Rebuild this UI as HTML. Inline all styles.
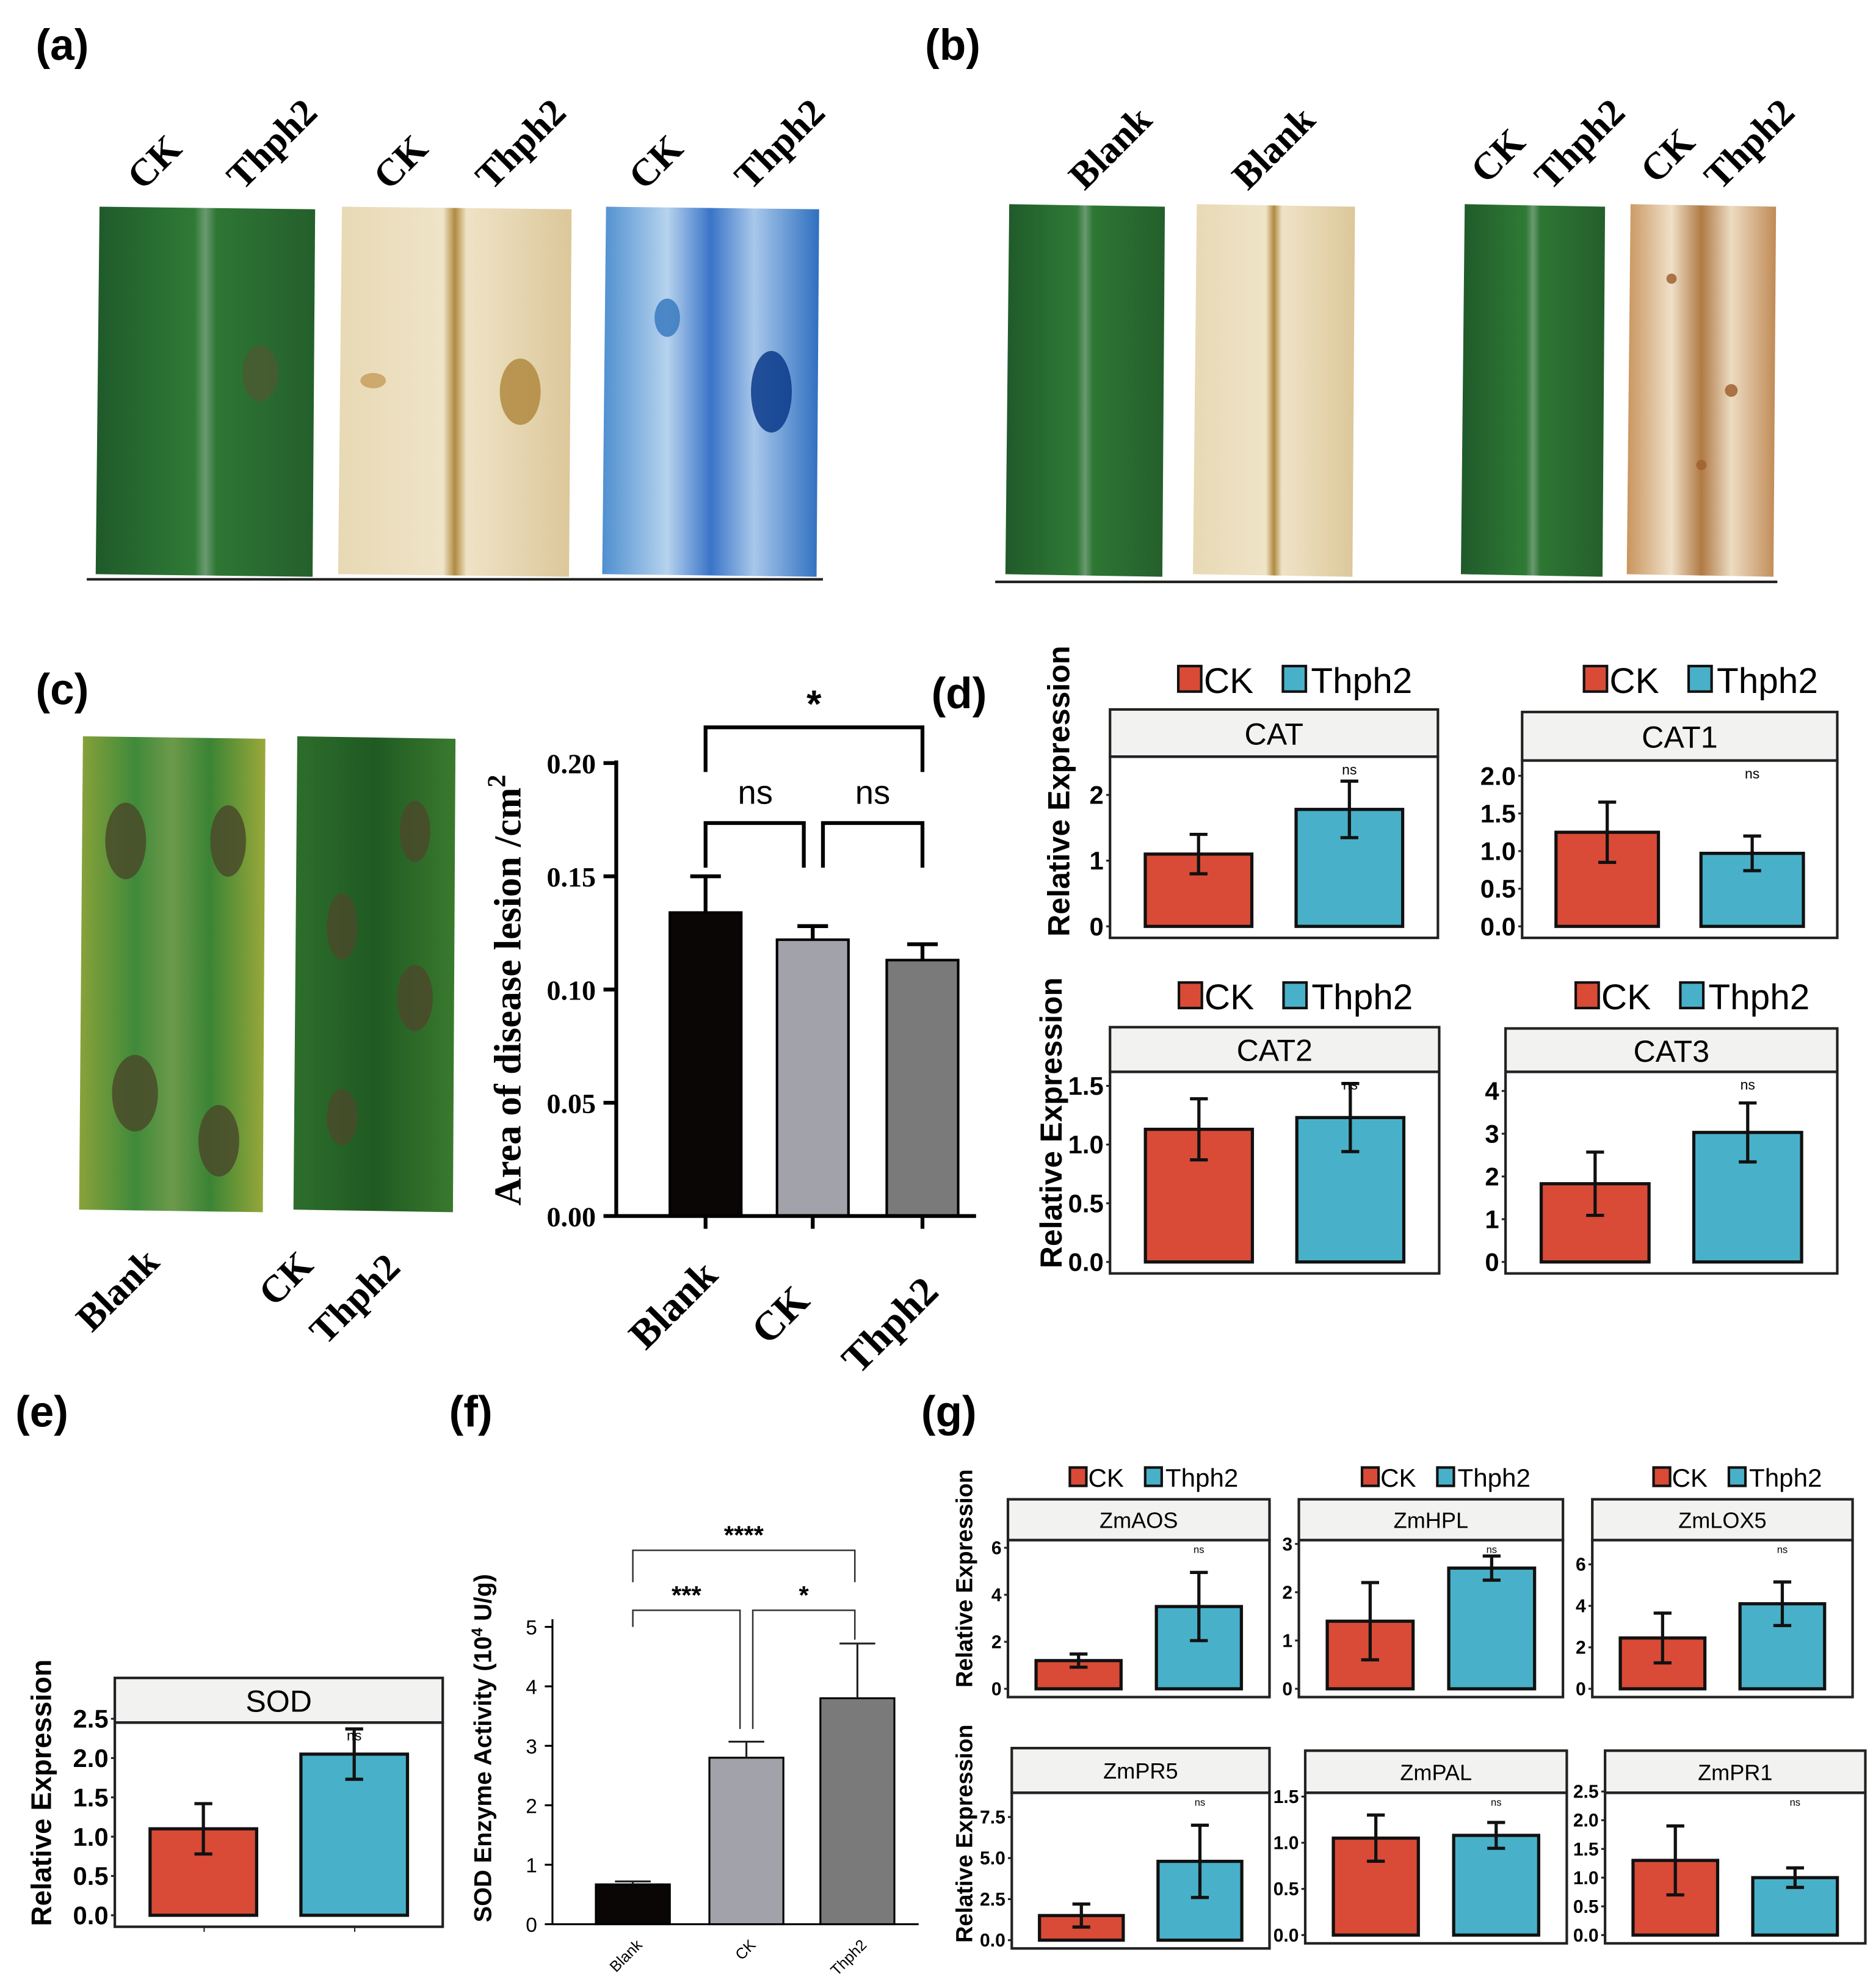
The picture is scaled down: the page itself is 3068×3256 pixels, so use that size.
<!DOCTYPE html>
<html><head><meta charset="utf-8">
<style>
html,body{margin:0;padding:0;background:#fff;}
svg{display:block;}
text{font-family:"Liberation Sans",Arial,sans-serif;}
.ser{font-family:"Liberation Serif","Times New Roman",serif;font-weight:bold;}
.lbl{font-family:"Liberation Sans",Arial,sans-serif;font-weight:bold;font-size:34px;}
</style></head>
<body>
<svg id="fig" xmlns="http://www.w3.org/2000/svg" width="3068" height="3256" viewBox="0 0 1468 1558" preserveAspectRatio="none">
<defs>
<linearGradient id="gGreen" x1="0" x2="1"><stop offset="0" stop-color="#1f5a2a"/><stop offset="0.45" stop-color="#2f7a36"/><stop offset="0.5" stop-color="#6a9a70"/><stop offset="0.55" stop-color="#2e7634"/><stop offset="1" stop-color="#245f2b"/></linearGradient>
<linearGradient id="gCream" x1="0" x2="1"><stop offset="0" stop-color="#e8d9b4"/><stop offset="0.45" stop-color="#efe4c8"/><stop offset="0.5" stop-color="#b08a40"/><stop offset="0.55" stop-color="#efe3c6"/><stop offset="1" stop-color="#dcc79a"/></linearGradient>
<linearGradient id="gBlue" x1="0" x2="1"><stop offset="0" stop-color="#4f8fd0"/><stop offset="0.3" stop-color="#b6d3ee"/><stop offset="0.5" stop-color="#3a74c8"/><stop offset="0.7" stop-color="#a8c8ea"/><stop offset="1" stop-color="#2f6fc0"/></linearGradient>
<linearGradient id="gBrown" x1="0" x2="1"><stop offset="0" stop-color="#c9955e"/><stop offset="0.3" stop-color="#efe0c8"/><stop offset="0.5" stop-color="#b07a44"/><stop offset="0.7" stop-color="#ecdcc2"/><stop offset="1" stop-color="#c08a55"/></linearGradient>
<linearGradient id="gYel" x1="0" x2="1"><stop offset="0" stop-color="#8aa23a"/><stop offset="0.3" stop-color="#3f8a3a"/><stop offset="0.5" stop-color="#6c9a4a"/><stop offset="0.7" stop-color="#3a8434"/><stop offset="1" stop-color="#9aa83a"/></linearGradient>
<linearGradient id="gDk" x1="0" x2="1"><stop offset="0" stop-color="#2e6e2c"/><stop offset="0.5" stop-color="#1f5a22"/><stop offset="1" stop-color="#3a7a2e"/></linearGradient>
</defs>
<g id="root"></g>
</svg>
<script>
// ---------- data ----------
const lesionCats = ["Blank","CK","Thph2"];
const lesionVals = [0.134,0.122,0.113];
const lesionErr = [0.016,0.006,0.007];
const lesionTicks = ["0.00","0.05","0.10","0.15","0.20"];

const sodActCats = ["Blank","CK","Thph2"];
const sodActVals = [0.67,2.8,3.8];
const sodActErr = [0.05,0.27,0.92];
const sodActTicks = ["0","1","2","3","4","5"];

const facetNames = ["CAT","CAT1","CAT2","CAT3","SOD","ZmAOS","ZmHPL","ZmLOX5","ZmPR5","ZmPAL","ZmPR1"];
const ckVals   = [1.1,1.25,1.13,1.83,1.1,1.2,1.4,2.45,1.5,1.05,1.3];
const ckErr    = [0.3,0.4,0.26,0.74,0.32,0.28,0.8,1.2,0.7,0.25,0.6];
const thVals   = [1.78,0.97,1.23,3.03,2.05,3.5,2.5,4.1,4.8,1.08,1.0];
const thErr    = [0.43,0.23,0.29,0.69,0.32,1.45,0.25,1.05,2.2,0.14,0.17];
const facetTicks = [
 ["0","1","2"],["0.0","0.5","1.0","1.5","2.0"],["0.0","0.5","1.0","1.5"],["0","1","2","3","4"],
 ["0.0","0.5","1.0","1.5","2.0","2.5"],["0","2","4","6"],["0","1","2","3"],["0","2","4","6"],
 ["0.0","2.5","5.0","7.5"],["0.0","0.5","1.0","1.5"],["0.0","0.5","1.0","1.5","2.0","2.5"]];

// ---------- helpers ----------
const NS="http://www.w3.org/2000/svg";
const root=document.getElementById('root');
function mk(tag,attrs,parent,txt){const e=document.createElementNS(NS,tag);for(const k in attrs)e.setAttribute(k,attrs[k]);if(txt!==undefined)e.textContent=txt;(parent||root).appendChild(e);return e;}
function grp(name,parent){const g=mk('g',{},parent);return g;}

// panel labels
[["(a)",28,47],["(b)",725,47],["(c)",28,552],["(d)",730,555],["(e)",12,1118],["(f)",352,1118],["(g)",722,1118]].forEach(p=>{
 const t=mk('text',{x:p[1],y:p[2],class:'lbl'},root,p[0]);
 
 
});

// ---------- leaves ----------
function leaf(name,x,y,w,h,fill,spots){
 const g=grp(name);
 mk('path',{d:`M${x+3},${y} L${x+w},${y+2} L${x+w-2},${y+h} L${x},${y+h-2} Z`,fill:fill},g);
 (spots||[]).forEach(s=>mk('ellipse',{cx:x+s[0]*w,cy:y+s[1]*h,rx:s[2],ry:s[3],fill:s[4],opacity:0.85},g));
}
function rotLabel(name,txt,x,y,size){
 const t=mk('text',{x:x,y:y,class:'ser','font-size':size||30,transform:`rotate(-45 ${x} ${y})`},root,txt);
 
}
// (a)
leaf('leaf-a-ck',75,162,172,290,'url(#gGreen)',[[0.75,0.45,14,22,'#4a5a30']]);
leaf('leaf-a-iodine',265,162,183,290,'url(#gCream)',[[0.78,0.5,16,26,'#b08a40'],[0.15,0.47,10,6,'#c8a060']]);
leaf('leaf-a-trypan',472,162,170,290,'url(#gBlue)',[[0.78,0.5,16,32,'#0a3a8a'],[0.3,0.3,10,15,'#3a7ac0']]);
mk('line',{x1:68,y1:454,x2:645,y2:454,stroke:'#222','stroke-width':2});
[['CK',112,150],['Thph2',190,150],['CK',305,150],['Thph2',385,150],['CK',505,150],['Thph2',588,150]].forEach((l,i)=>rotLabel('leaf-label-a-'+i,l[0],l[1],l[2]));
// (b)
leaf('leaf-b-blank',788,160,125,292,'url(#gGreen)');
leaf('leaf-b-blank-stain',935,160,127,292,'url(#gCream)');
leaf('leaf-b-ck',1145,160,113,292,'url(#gGreen)');
leaf('leaf-b-thph2-stain',1275,160,117,292,'url(#gBrown)',[[0.3,0.2,4,4,'#a06030'],[0.7,0.5,5,5,'#a06030'],[0.5,0.7,4,4,'#a06030']]);
mk('line',{x1:780,y1:456,x2:1393,y2:456,stroke:'#222','stroke-width':2});
[['Blank',850,150],['Blank',978,150],['CK',1165,145],['Thph2',1215,150],['CK',1298,145],['Thph2',1348,150]].forEach((l,i)=>rotLabel('leaf-label-b-'+i,l[0],l[1],l[2]));
// (c)
leaf('leaf-c-blank',62,577,146,373,'url(#gYel)',[[0.25,0.22,16,30,'#4a4a2a'],[0.8,0.22,14,28,'#4a4a2a'],[0.3,0.75,18,30,'#4a4a2a'],[0.75,0.85,16,28,'#4a4a2a']]);
leaf('leaf-c-thph2',230,577,127,373,'url(#gDk)',[[0.75,0.2,12,24,'#4a4a2a'],[0.3,0.4,12,26,'#4a4a2a'],[0.75,0.55,14,26,'#4a4a2a'],[0.3,0.8,12,22,'#4a4a2a']]);
rotLabel('leaf-label-c-blank','Blank',72,1045);
rotLabel('leaf-label-c-ck','CK',215,1025);
rotLabel('leaf-label-c-thph2','Thph2',255,1055);

// ---------- (c) lesion bar chart ----------
(function(){
 const g=grp('lesion-area-chart');
 const x0=483,xEnd=765,yB=953,yT=598,max=0.20;
 const ys=v=>yB-(v/max)*(yB-yT);
 const centers=[553,637,723],bw=56,cols=['#0a0606','#a2a2aa','#7a7a7a'];
 lesionVals.forEach((v,i)=>{
  const b=mk('rect',{x:centers[i]-bw/2,y:ys(v),width:bw,height:yB-ys(v),fill:cols[i],stroke:'#000','stroke-width':2},g);
  
  const top=ys(v+lesionErr[i]);
  mk('path',{d:`M${centers[i]},${ys(v)} V${top} M${centers[i]-12},${top} H${centers[i]+12}`,stroke:'#000','stroke-width':3,fill:'none'},g);
  const t=mk('text',{x:centers[i]-18,y:1030+i*8,class:'ser','font-size':32,transform:`rotate(-45 ${centers[i]-18} ${1030+i*8})`,'text-anchor':'middle'},g,lesionCats[i]);
  
  mk('line',{x1:centers[i],y1:yB,x2:centers[i],y2:yB+10,stroke:'#000','stroke-width':3},g);
 });
 mk('line',{x1:x0,y1:yT-2,x2:x0,y2:yB,stroke:'#000','stroke-width':3},g);
 mk('line',{x1:x0,y1:yB,x2:xEnd,y2:yB,stroke:'#000','stroke-width':3},g);
 lesionTicks.forEach(t=>{const v=parseFloat(t),y=ys(v);
  mk('line',{x1:x0-10,y1:y,x2:x0,y2:y,stroke:'#000','stroke-width':3},g);
  mk('text',{x:x0-16,y:y+8,class:'ser','font-size':22,'text-anchor':'end'},g,t);});
 const yt=mk('text',{x:408,y:776,class:'ser','font-size':30,'text-anchor':'middle',transform:'rotate(-90 408 776)'},g);
 yt.textContent='Area of disease lesion /cm';
 mk('tspan',{dy:-12,'font-size':20},yt,'2');
 
 mk('path',{d:'M553,605 V570 H723 V605',stroke:'#000','stroke-width':3,fill:'none'},g);
 mk('path',{d:'M553,680 V645 H630 V680',stroke:'#000','stroke-width':3,fill:'none'},g);
 mk('path',{d:'M645,680 V645 H723 V680',stroke:'#000','stroke-width':3,fill:'none'},g);
 mk('text',{x:638,y:562,'font-size':30,'text-anchor':'middle','font-weight':'bold'},g,'*');
 mk('text',{x:592,y:630,'font-size':26,'text-anchor':'middle'},g,'ns');
 mk('text',{x:684,y:630,'font-size':26,'text-anchor':'middle'},g,'ns');
})();

// ---------- (f) SOD activity ----------
(function(){
 const g=grp('sod-activity-chart');
 const x0=433,xEnd=720,yB=1508,yT=1275,max=5;
 const ys=v=>yB-(v/max)*(yB-yT);
 const centers=[496,585,672],bw=58,cols=['#0a0606','#a2a2aa','#7a7a7a'];
 sodActVals.forEach((v,i)=>{
  const b=mk('rect',{x:centers[i]-bw/2,y:ys(v),width:bw,height:yB-ys(v),fill:cols[i],stroke:'#000','stroke-width':1.5},g);
  
  const top=ys(v+sodActErr[i]);
  mk('path',{d:`M${centers[i]},${ys(v)} V${top} M${centers[i]-14},${top} H${centers[i]+14}`,stroke:'#222','stroke-width':1.5,fill:'none'},g);
  const t=mk('text',{x:centers[i]+8,y:1525,'font-size':12,'text-anchor':'end',transform:`rotate(-45 ${centers[i]+8} 1525)`},g,sodActCats[i]);
  
 });
 mk('line',{x1:x0,y1:yT-6,x2:x0,y2:yB,stroke:'#000','stroke-width':1.5},g);
 mk('line',{x1:x0,y1:yB,x2:xEnd,y2:yB,stroke:'#000','stroke-width':1.5},g);
 sodActTicks.forEach(t=>{const y=ys(parseFloat(t));
  mk('line',{x1:x0-6,y1:y,x2:x0,y2:y,stroke:'#000','stroke-width':1.5},g);
  mk('text',{x:x0-12,y:y+6,'font-size':16,'text-anchor':'end'},g,t);});
 const yt=mk('text',{x:385,y:1370,'font-size':19,'font-weight':'bold','text-anchor':'middle',transform:'rotate(-90 385 1370)'},g);
 yt.textContent='SOD Enzyme Activity (10';
 mk('tspan',{dy:-7,'font-size':12},yt,'4');
 mk('tspan',{dy:7},yt,' U/g)');
 
 mk('path',{d:'M496,1240 V1215 H670 V1240',stroke:'#333','stroke-width':1.2,fill:'none'},g);
 mk('path',{d:'M496,1275 V1262 H580 V1355',stroke:'#333','stroke-width':1.2,fill:'none'},g);
 mk('path',{d:'M590,1355 V1262 H670 V1285',stroke:'#333','stroke-width':1.2,fill:'none'},g);
 mk('text',{x:583,y:1210,'font-size':20,'text-anchor':'middle','font-weight':'bold'},g,'****');
 mk('text',{x:538,y:1257,'font-size':20,'text-anchor':'middle','font-weight':'bold'},g,'***');
 mk('text',{x:630,y:1257,'font-size':20,'text-anchor':'middle','font-weight':'bold'},g,'*');
})();

// ---------- facet bar plots ----------
// layout: [panelX1, panelX2, headerTop, plotTop, plotBottom, yTopTickPos, legendY, fontScale]
const facetLayout = [
 [870,1127,556,593,735,623,533,1],
 [1193,1440,558,596,735,608,533,1],
 [870,1128,805,840,998,851,781,1],
 [1180,1440,806,840,998,855,781,1],
 [90,347,1315,1350,1510,1347,0,1],
 [790,995,1175,1207,1330,1213,1158,0.72],
 [1018,1225,1175,1207,1330,1210,1158,0.72],
 [1248,1452,1175,1207,1330,1226,1158,0.72],
 [793,995,1370,1405,1527,1424,0,0.72],
 [1023,1228,1372,1405,1523,1408,0,0.72],
 [1258,1462,1372,1405,1523,1404,0,0.72]];
facetNames.forEach((nm,i)=>{
 const L=facetLayout[i],s=L[7];
 const g=grp('facet-'+nm);
 const x1=L[0],x2=L[1],hT=L[2],pT=L[3],pB=L[4];
 const ticks=facetTicks[i];const tmax=parseFloat(ticks[ticks.length-1]);
 const y0=pB-9*s, yTop=L[5];
 const ys=v=>y0-(v/tmax)*(y0-yTop);
 mk('rect',{x:x1,y:hT,width:x2-x1,height:pT-hT,fill:'#f2f2f0',stroke:'#222','stroke-width':2},g);
 const ht=mk('text',{x:(x1+x2)/2,y:(hT+pT)/2+9*s,'font-size':24*s,'text-anchor':'middle'},g,nm);
 
 mk('rect',{x:x1,y:pT,width:x2-x1,height:pB-pT,fill:'none',stroke:'#222','stroke-width':2},g);
 ticks.forEach(t=>{const y=ys(parseFloat(t));
  mk('text',{x:x1-5,y:y+7*s,'font-size':20*s,'font-weight':'bold','text-anchor':'end'},g,t);
  mk('line',{x1:x1-3,y1:y,x2:x1,y2:y,stroke:'#222','stroke-width':1.5},g);});
 const w=x2-x1,bw=w*0.325;
 const cx=[x1+w*0.27,x1+w*0.73];
 [[ckVals[i],ckErr[i],'#d94b37','CK'],[thVals[i],thErr[i],'#48b1c9','Thph2']].forEach((d,j)=>{
  const b=mk('rect',{x:cx[j]-bw/2,y:ys(d[0]),width:bw,height:y0-ys(d[0]),fill:d[2],stroke:'#111','stroke-width':2.5},g);
  
  const a=ys(d[0]+d[1]),c=ys(d[0]-d[1]);
  mk('path',{d:`M${cx[j]},${a} V${c} M${cx[j]-7},${a} H${cx[j]+7} M${cx[j]-7},${c} H${cx[j]+7}`,stroke:'#111','stroke-width':2.5,fill:'none'},g);
 });
 mk('text',{x:cx[1],y:pT+14*s,'font-size':11*s,'text-anchor':'middle'},g,'ns');
 if(L[6]){
  const ly=L[6],lx=(x1+x2)/2-75*s;
  const lg=grp('legend-'+nm,g);
  mk('rect',{x:lx,y:ly-11*s,width:18*s,height:20*s,fill:'#d94b37',stroke:'#111','stroke-width':2},lg);
  mk('text',{x:lx+20*s,y:ly+10*s,'font-size':28*s},lg,'CK');
  mk('rect',{x:lx+82*s,y:ly-11*s,width:18*s,height:20*s,fill:'#48b1c9',stroke:'#111','stroke-width':2},lg);
  mk('text',{x:lx+104*s,y:ly+10*s,'font-size':28*s},lg,'Thph2');
 }
});
// y titles
[[838,620,24],[832,880,24],[40,1405,22],[762,1237,18],[762,1437,18]].forEach((p,i)=>{
 const t=mk('text',{x:p[0],y:p[1],'font-size':p[2],'font-weight':'bold','text-anchor':'middle',transform:`rotate(-90 ${p[0]} ${p[1]})`},root,'Relative Expression');
 
});
mk('line',{x1:160,y1:1510,x2:160,y2:1514,stroke:'#222'});
mk('line',{x1:278,y1:1510,x2:278,y2:1514,stroke:'#222'});
</script>
</body></html>
